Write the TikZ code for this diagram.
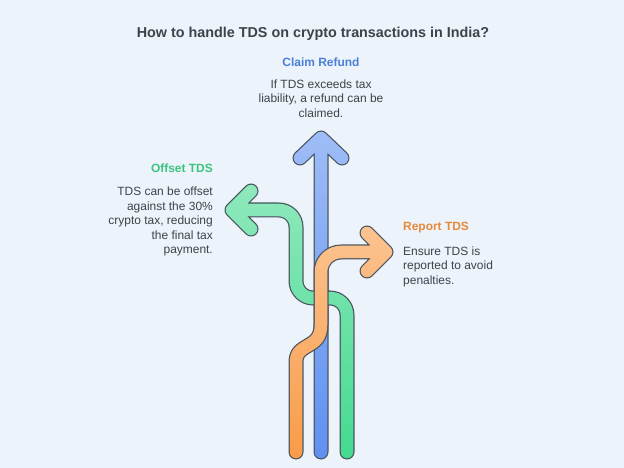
\documentclass[tikz,border=0pt]{standalone}
\usepackage{fontspec}
\setmainfont{Liberation Sans}
\usetikzlibrary{positioning,fadings}
\definecolor{bgpaper}{HTML}{EDF3FA}
\definecolor{bandline}{HTML}{4A5560}
\definecolor{refundblue}{HTML}{5F91F2}
\definecolor{offsetgreen}{HTML}{45DA90}
\definecolor{reportorange}{HTML}{F99C48}
\definecolor{refundhead}{HTML}{4A7FD9}
\definecolor{offsethead}{HTML}{3CC47E}
\definecolor{reporthead}{HTML}{E8893A}
\definecolor{inkgray}{HTML}{3E434A}

\tikzfading[name=topglow, top color=transparent!60, bottom color=transparent!100]

\tikzset{
  band/.style={line width=12.5bp, line cap=round, line join=round,
    preaction={draw=bandline, line width=15bp, line cap=round, line join=round},
    postaction={draw=white, line width=12.5bp, path fading=topglow}},
  headtext/.style={font=\fontsize{12}{14.5}\selectfont\bfseries, inner sep=0pt},
  bodytext/.style={font=\fontsize{12}{14.6}\selectfont, text=inkgray, inner sep=0pt}
}

\begin{document}
\begin{tikzpicture}[x=1bp, y=-1bp]
  \useasboundingbox[fill=bgpaper] (0,0) rectangle (624,468);

  % title
  \node[font=\fontsize{14.4}{16}\selectfont\bfseries, text=inkgray] (title) at (313,34) {How to handle TDS on crypto transactions in India?};

  % arrows: blue, then green over it, orange on top
  \draw[band, draw=refundblue] (321,452) -- (321,138) (300,158) -- (321,138) -- (342,158);
  \draw[band, draw=offsetgreen, rounded corners=17bp] (347,452) -- (347,298) -- (296,298) -- (296,210) -- (232,210)
    [sharp corners] (251,191) -- (232,210) -- (251,229);
  \draw[band, draw=reportorange] (296,452) -- (296,362) .. controls (296,342) and (321,350) .. (321,325)
    [rounded corners=20bp] -- (321,252) -- (386,252)
    [sharp corners] (367,233) -- (386,252) -- (367,271);

  % claim refund
  \node[headtext, text=refundhead] (claimhead) at (321,62) {Claim Refund};
  \node[bodytext, align=center] (claimbody) at (321,98.5) {If TDS exceeds tax\\liability, a refund can be\\claimed.};

  % offset
  \node[headtext, text=offsethead, anchor=east] (offsethead) at (213,168) {Offset TDS};
  \node[bodytext, align=right, anchor=east] (offsetbody) at (213,221.5) {TDS can be offset\\against the 30\%\\crypto tax, reducing\\the final tax\\payment.};

  % report
  \node[headtext, text=reporthead, anchor=west] (reporthead) at (403,228) {Report TDS};
  \node[bodytext, align=left, anchor=west] (reportbody) at (403,266.5) {Ensure TDS is\\reported to avoid\\penalties.};
\end{tikzpicture}
\end{document}
